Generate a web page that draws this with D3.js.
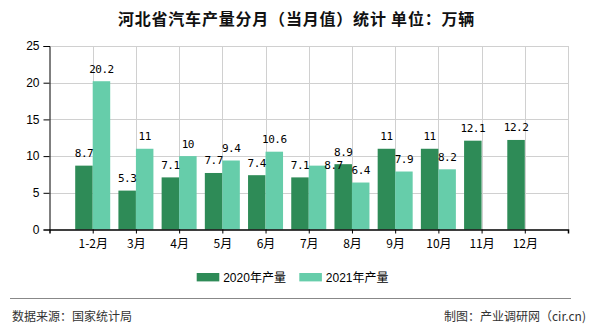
<!DOCTYPE html>
<html><head><meta charset="utf-8">
<script src="https://cdn.jsdelivr.net/npm/d3@7"></script>
<style>
html,body{margin:0;padding:0;background:#fff;}
svg{display:block;}
</style></head>
<body>
<svg id="c" width="590" height="330"></svg>
<script>
const categories = ["1-2月","3月","4月","5月","6月","7月","8月","9月","10月","11月","12月"];
const series2020 = [8.7,5.3,7.1,7.7,7.4,7.1,8.9,11,11,12.1,12.2];
const series2021 = [20.2,11,10,9.4,10.6,8.7,6.4,7.9,8.2,null,null];
const seriesNames = ["2020年产量","2021年产量"];
const yTicks = [0,5,10,15,20,25];
const titleText = "河北省汽车产量分月（当月值）统计 单位：万辆";
const sourceText = "数据来源：国家统计局";
const creditText = "制图：产业调研网（cir.cn)";

const colors = ["#2e8b57","#66cdaa"];
const svg = d3.select("#c");
const L = 49.5, R = 568, T = 46, B = 229.5;

const x = d3.scalePoint().domain(categories).range([L, R]).padding(1);
const y = d3.scaleLinear().domain([0,25]).range([B, T]);
const bw = x.step()*0.405;

// grid
const g = svg.append("g");
g.selectAll("line.h").data(yTicks.filter(d=>d>0)).enter().append("line")
  .attr("x1",L).attr("x2",R).attr("y1",d=>Math.round(y(d))+0.5).attr("y2",d=>Math.round(y(d))+0.5)
  .attr("stroke","#d0d0d0").attr("stroke-width",1);
g.selectAll("line.v").data(categories.map(c=>x(c)).concat([R])).enter().append("line")
  .attr("x1",d=>Math.round(d)+0.5).attr("x2",d=>Math.round(d)+0.5).attr("y1",T).attr("y2",B)
  .attr("stroke","#d0d0d0").attr("stroke-width",1);

// bars
const data = [series2020, series2021];
data.forEach((arr, si) => {
  svg.append("g").selectAll("rect").data(arr.map((v,i)=>({v,c:categories[i]})).filter(d=>d.v!=null))
    .enter().append("rect")
    .attr("x", d => x(d.c) + (si===0 ? -bw : 0))
    .attr("width", bw)
    .attr("y", d => y(d.v))
    .attr("height", d => B - y(d.v))
    .attr("fill", colors[si]);
});

// axes
const ya = d3.axisLeft(y).tickValues(yTicks).tickSize(6).tickPadding(4).tickFormat(d3.format("d"));
const yg = svg.append("g").attr("transform",`translate(${L},0)`).call(ya);
yg.select(".domain").attr("stroke","#000");
yg.selectAll(".tick line").attr("stroke","#000");
yg.selectAll("text").attr("font-family","'Liberation Sans', Arial, sans-serif").attr("font-size",12).attr("fill","#000");

const xa = d3.axisBottom(x).tickSize(4).tickSizeOuter(4).tickPadding(4);
const xg = svg.append("g").attr("transform",`translate(0,${B})`).call(xa);
xg.select(".domain").attr("stroke","#000").attr("stroke-width",1.5);
xg.selectAll(".tick line").attr("stroke","#000");
xg.selectAll("text").attr("font-family","'Noto Sans CJK SC', sans-serif").attr("font-size",12).attr("fill","#000").attr("dy","0.9em");

// value labels
const nudge = {"1|月7":[16,12]};
data.forEach((arr, si) => {
  svg.append("g").selectAll("text").data(arr.map((v,i)=>({v,c:categories[i],i})).filter(d=>d.v!=null))
    .enter().append("text")
    .attr("x", d => x(d.c) + (si===0 ? -bw/2 : bw/2) + ((si===1 && d.c==="7月") ? 16 : 0))
    .attr("y", d => y(d.v) - 8.5 + ((si===1 && d.c==="7月") ? 12 : 0))
    .attr("text-anchor","middle")
    .attr("font-family","'DejaVu Sans Mono', monospace")
    .attr("font-size",11).attr("letter-spacing","-0.5px")
    .attr("fill","#000")
    .text(d => d.v);
});

// title
svg.append("text").attr("x",296.5).attr("y",25).attr("text-anchor","middle")
  .attr("font-family","'Noto Sans CJK SC', sans-serif").attr("font-size",16).attr("font-weight","bold")
  .attr("letter-spacing","0.8px").attr("fill","#111").text(titleText);

// legend
const lg = svg.append("g");
const legX = [196.7, 299.3];
seriesNames.forEach((n,i)=>{
  lg.append("rect").attr("x",legX[i]).attr("y",273).attr("width",22.6).attr("height",8.4).attr("fill",colors[i]);
  lg.append("text").attr("x",legX[i]+26.5).attr("y",282).attr("font-family","'Liberation Sans', 'Noto Sans CJK SC', sans-serif")
    .attr("font-size",12).attr("fill","#000").text(n);
});

// footer
svg.append("line").attr("x1",10).attr("x2",571).attr("y1",298.5).attr("y2",298.5).attr("stroke","#888").attr("stroke-width",1);
svg.append("text").attr("x",12).attr("y",321).attr("font-family","'Noto Sans CJK SC', sans-serif").attr("font-size",12).attr("fill","#333").text(sourceText);
svg.append("text").attr("x",586).attr("y",321).attr("text-anchor","end").attr("font-family","'Noto Sans CJK SC', sans-serif").attr("font-size",12).attr("fill","#333").text(creditText);
</script>
</body></html>
